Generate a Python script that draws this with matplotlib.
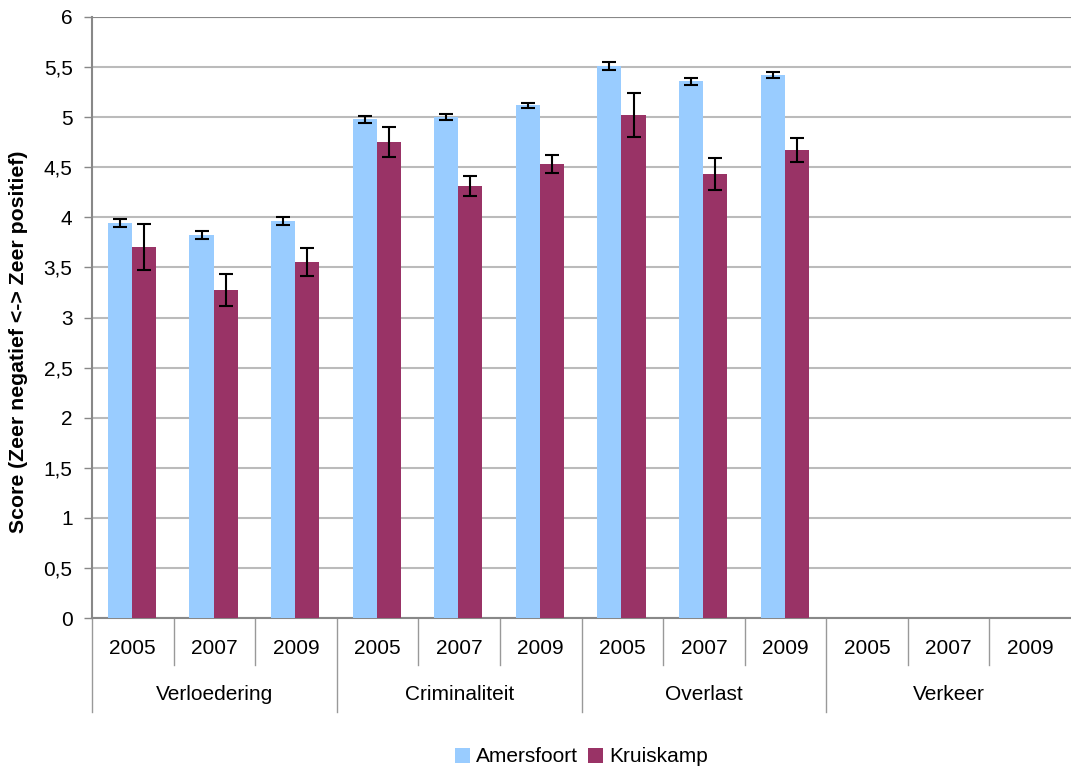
import matplotlib
matplotlib.use("Agg")
import matplotlib.pyplot as plt
import numpy as np

plt.rcParams['font.family'] = ['Liberation Sans', 'DejaVu Sans']

groups = ["Verloedering", "Criminaliteit", "Overlast", "Verkeer"]
years = ["2005", "2007", "2009"]
amersfoort = [3.94, 3.82, 3.96, 4.98, 5.00, 5.12, 5.51, 5.36, 5.42, np.nan, np.nan, np.nan]
amersfoort_err = [0.04, 0.04, 0.04, 0.035, 0.03, 0.025, 0.04, 0.035, 0.03, np.nan, np.nan, np.nan]
kruiskamp = [3.70, 3.27, 3.55, 4.75, 4.31, 4.53, 5.02, 4.43, 4.67, np.nan, np.nan, np.nan]
kruiskamp_err = [0.23, 0.16, 0.14, 0.15, 0.10, 0.09, 0.22, 0.16, 0.12, np.nan, np.nan, np.nan]
yticks = [0, 0.5, 1, 1.5, 2, 2.5, 3, 3.5, 4, 4.5, 5, 5.5, 6]
ytick_labels = ["0", "0,5", "1", "1,5", "2", "2,5", "3", "3,5", "4", "4,5", "5", "5,5", "6"]

col_a = "#99CCFF"
col_k = "#993366"
FS = 15

fig = plt.figure(figsize=(10.71, 7.72), dpi=100)
ax = fig.add_axes([92/1071, 1-618/772, 1-92/1071, (618-17)/772])

n = len(amersfoort)
x = np.arange(n) + 0.49
w = 0.295
ax.bar(x - w/2, amersfoort, w, color=col_a, label="Amersfoort", zorder=3)
ax.bar(x + w/2, kruiskamp, w, color=col_k, label="Kruiskamp", zorder=3)
ekw = dict(ecolor="black", elinewidth=1.5, capsize=5, capthick=1.5, fmt="none", zorder=4)
ax.errorbar(x - w/2, amersfoort, yerr=amersfoort_err, **ekw)
ax.errorbar(x + w/2, kruiskamp, yerr=kruiskamp_err, **ekw)

ax.set_xlim(0, n)
ax.set_ylim(0, 6)
ax.set_yticks(yticks)
ax.set_yticklabels(ytick_labels, fontsize=FS)
ax.tick_params(axis='y', length=6, width=1, color="#888888", pad=8)
ax.set_xticks([])
ax.yaxis.grid(True, color="#BBBBBB", linewidth=1.5, zorder=0)
ax.set_axisbelow(True)
for s in ["top", "right"]:
    ax.spines[s].set_visible(False)
ax.spines["left"].set_color("#888888")
ax.spines["left"].set_linewidth(1.5)
ax.spines["bottom"].set_color("#888888")
ax.spines["bottom"].set_linewidth(1.5)
ax.axhline(6, color="#888888", linewidth=1.5, zorder=1)

fig.text(19/1071, 1 - 342/772, "Score (Zeer negatief <-> Zeer positief)", rotation=90,
         ha="center", va="center", fontsize=15.3, fontweight="bold")

trans = ax.get_xaxis_transform()
px = 1.0 / (618 - 17)  # axes fraction per pixel
for i in range(n):
    ax.text(i + 0.5, -(648 - 618) * px, years[i % 3], transform=trans,
            ha="center", va="center", fontsize=FS)
for i in range(n):
    depth = 712 if i % 3 == 0 else 665
    ax.plot([i, i], [0, -(depth - 618) * px], transform=trans, color="#999999",
            linewidth=1, clip_on=False)
for g, name in enumerate(groups):
    ax.text(g * 3 + 1.5, -(695 - 618) * px, name, transform=trans,
            ha="center", va="center", fontsize=FS)

ax.legend(loc="center", bbox_to_anchor=(0.5, -(757 - 618) * px), ncol=2, frameon=False,
          fontsize=FS, handlelength=0.7, handleheight=0.7, handletextpad=0.3,
          columnspacing=0.5, borderaxespad=0)

fig.savefig("out.png", dpi=100)
